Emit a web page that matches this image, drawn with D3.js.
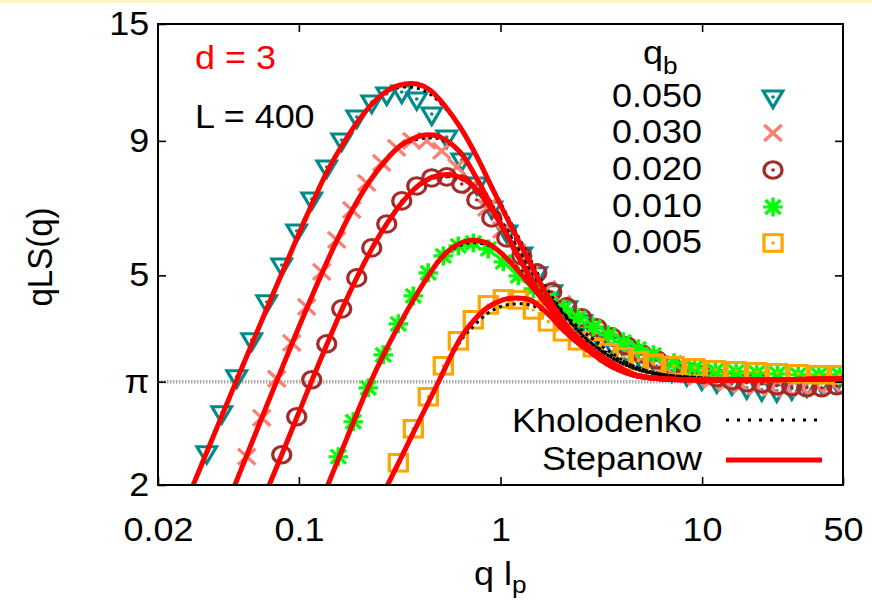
<!DOCTYPE html>
<html><head><meta charset="utf-8">
<script src="https://cdn.jsdelivr.net/npm/d3@7"></script>
<style>
body{margin:0;background:#fff;}
svg{display:block;}
text{font-family:"Liberation Sans",Arial,Helvetica,sans-serif;}
</style>
</head><body>
<svg id="c" width="872" height="601"></svg>
<script>
// ---------------- data ----------------
const xTicks = [0.02, 0.1, 1, 10, 50];
const xTickLabels = ["0.02", "0.1", "1", "10", "50"];
const yTicks = [2, Math.PI, 5, 9, 15];
const yTickLabels = ["2", "\u03c0", "5", "9", "15"];
const seriesLabels = ["0.050", "0.030", "0.020", "0.010", "0.005"];

// simulation data (markers)
const q050 = [0.03489,0.04141,0.04915,0.05834,0.06924,0.08218,0.09754,0.1158,0.1374,0.1631,0.1936,0.2298,0.2727,0.3237,0.3842,0.4560,0.5412,0.6423,0.7624,0.9049,1.074,1.275,1.513,1.796,2.131,2.530,3.003,3.564,4.230,5.020,5.959,7.072,8.394,9.963,11.83,14.04,16.66,19.77,23.47,27.85,33.06,39.24,46.57];
const v050 = [2.303,2.743,3.210,3.772,4.453,5.234,6.072,6.983,8.030,9.036,9.990,10.667,11.046,11.143,10.808,10.122,9.155,8.280,7.455,6.713,6.046,5.492,5.033,4.652,4.338,4.081,3.872,3.707,3.580,3.457,3.367,3.295,3.238,3.182,3.140,3.113,3.059,3.032,3.019,3.045,3.086,3.127,3.154];

const q030 = [0.05510,0.06539,0.07761,0.09211,0.1093,0.1298,0.1540,0.1828,0.2169,0.2575,0.3056,0.3628,0.4306,0.5110,0.6065,0.7198,0.8543,1.014,1.204,1.429,1.696,2.012,2.389,2.835,3.365,3.994,4.740,5.626,6.677,7.925,9.406,11.16,13.25,15.73,18.66,22.15,26.30,31.21,37.05,43.97];
const v030 = [2.263,2.683,3.182,3.723,4.357,5.076,5.838,6.655,7.488,8.172,8.725,8.997,8.997,8.611,8.031,7.391,6.713,6.099,5.540,5.076,4.714,4.414,4.153,3.941,3.772,3.627,3.502,3.397,3.323,3.266,3.210,3.168,3.126,3.099,3.072,3.059,3.045,3.059,3.085,3.113];

const q020 = [0.08218,0.09754,0.1158,0.1374,0.1631,0.1936,0.2298,0.2727,0.3237,0.3842,0.4560,0.5412,0.6423,0.7624,0.9049,1.074,1.275,1.513,1.796,2.131,2.530,3.003,3.564,4.230,5.020,5.959,7.072,8.394,9.963,11.83,14.04,16.66,19.77,23.47,27.85,33.06,39.24,46.57];
const v020 = [2.283,2.695,3.168,3.707,4.319,4.945,5.638,6.260,6.923,7.391,7.654,7.688,7.455,6.953,6.427,5.889,5.444,5.055,4.652,4.357,4.153,3.976,3.821,3.675,3.548,3.457,3.367,3.295,3.238,3.196,3.154,3.126,3.113,3.086,3.072,3.059,3.059,3.086];

const q010 = [0.1569,0.1861,0.2210,0.2622,0.3113,0.3695,0.4384,0.5204,0.6176,0.7331,0.8701,1.033,1.226,1.455,1.727,2.050,2.433,2.887,3.427,4.067,4.827,5.732,7.260,9.196,11.65,14.75,18.69,23.67,29.98,37.97,48.10];
const v010 = [2.263,2.637,3.059,3.533,4.046,4.571,5.055,5.444,5.687,5.762,5.613,5.304,4.989,4.714,4.512,4.319,4.153,3.993,3.855,3.739,3.627,3.533,3.412,3.338,3.295,3.280,3.266,3.252,3.238,3.238,3.238];

const q005 = [0.3113,0.3695,0.4384,0.5204,0.6176,0.7331,0.8701,1.033,1.226,1.455,1.727,2.050,2.433,2.887,3.427,4.067,4.827,5.732,7.260,9.196,11.65,14.75,18.69,23.67,29.98,37.97,48.10];
const v005 = [2.204,2.557,2.941,3.367,3.756,4.117,4.395,4.512,4.492,4.300,4.081,3.907,3.756,3.643,3.564,3.502,3.442,3.397,3.367,3.338,3.309,3.295,3.280,3.266,3.252,3.238,3.238];

// Stepanow theory (red solid)
const sq050 = [0.02850,0.02993,0.03489,0.04203,0.05103,0.06174,0.07440,0.09031,0.1093,0.1378,0.1654,0.2009,0.2440,0.2929,0.3360,0.3854,0.4470,0.5305,0.6296,0.7645,0.9177,1.114,1.353,1.625,1.973,2.479,3.374,4.542,6.184,9.760,19.37,50];
const sv050 = [1.917,2.003,2.307,2.739,3.273,3.893,4.607,5.478,6.484,7.857,8.879,9.926,10.808,11.364,11.539,11.539,11.241,10.482,9.564,8.389,7.263,6.260,5.421,4.734,4.189,3.739,3.397,3.238,3.182,3.168,3.168,3.182];
const sq030 = [0.04604,0.04820,0.05919,0.07440,0.09346,0.1175,0.1476,0.1855,0.2252,0.2673,0.3173,0.3639,0.4222,0.5011,0.6296,0.7645,0.9177,1.114,1.353,1.625,1.973,2.479,3.374,4.542,6.184,9.760,19.37,50];
const sv030 = [1.917,2.003,2.437,3.027,3.749,4.615,5.618,6.690,7.561,8.233,8.801,9.076,9.235,9.155,8.574,7.620,6.684,5.813,5.076,4.531,4.117,3.739,3.397,3.238,3.182,3.168,3.168,3.182];
const sq020 = [0.06561,0.06867,0.08218,0.09754,0.1158,0.1374,0.1631,0.1936,0.2298,0.2727,0.3237,0.3842,0.4560,0.5412,0.6296,0.7057,0.8377,0.9942,1.180,1.401,1.662,1.973,2.479,3.374,4.542,6.184,9.760,19.37,50];
const sv020 = [1.860,1.934,2.283,2.683,3.154,3.691,4.300,4.945,5.613,6.260,6.862,7.359,7.671,7.772,7.671,7.488,6.953,6.287,5.589,4.945,4.453,4.099,3.739,3.397,3.238,3.182,3.168,3.168,3.182];
const sq010 = [0.1332,0.1394,0.1732,0.2177,0.2735,0.3437,0.4319,0.5011,0.5812,0.7057,0.8571,1.029,1.249,1.517,1.821,2.212,2.779,3.374,4.542,6.184,9.760,19.37,50];
const sv010 = [1.917,2.003,2.458,3.032,3.643,4.281,4.945,5.361,5.650,5.826,5.762,5.468,5.055,4.631,4.263,3.941,3.643,3.457,3.252,3.182,3.168,3.168,3.182];
const sq005 = [0.2613,0.2766,0.3173,0.3988,0.5011,0.5812,0.6441,0.7057,0.8571,1.029,1.207,1.401,1.700,2.042,2.479,3.374,4.542,6.184,9.760,19.37,50];
const sv005 = [1.917,2.007,2.233,2.666,3.182,3.580,3.838,4.028,4.338,4.492,4.531,4.492,4.244,3.941,3.691,3.412,3.238,3.182,3.168,3.168,3.182];

// Kholodenko theory (black dotted), on the same q grids as the Stepanow curves
const kv050 = [1.917,2.003,2.307,2.739,3.273,3.893,4.607,5.478,6.484,7.857,8.879,9.926,10.808,11.290,11.389,11.340,11.046,10.391,9.564,8.426,7.327,6.343,5.516,4.838,4.338,3.889,3.533,3.338,3.238,3.182,3.168,3.182];
const kv030 = [1.917,2.003,2.437,3.027,3.749,4.615,5.618,6.690,7.561,8.233,8.801,8.997,9.115,9.076,8.537,7.653,6.772,5.941,5.257,4.714,4.300,3.889,3.533,3.338,3.238,3.182,3.168,3.182];
const kv020 = [1.860,1.934,2.283,2.683,3.154,3.691,4.300,4.945,5.613,6.260,6.862,7.326,7.620,7.704,7.620,7.455,6.983,6.399,5.737,5.143,4.673,4.300,3.889,3.533,3.338,3.238,3.182,3.168,3.182];
const kv010 = [1.917,2.003,2.458,3.032,3.643,4.281,4.945,5.327,5.613,5.762,5.712,5.468,5.121,4.754,4.434,4.117,3.821,3.611,3.367,3.252,3.196,3.168,3.182];
const kv005 = [1.917,2.003,2.214,2.660,3.168,3.548,3.789,3.941,4.225,4.376,4.414,4.395,4.244,4.028,3.821,3.564,3.367,3.252,3.196,3.168,3.182];

// ---------------- drawing ----------------
const W = 872, H = 601;
const M = {l: 158, r: 843, t: 24, b: 485};
const SX = 1.09; // horizontal text stretch of the original
const FS = 33;

const x = d3.scaleLog().domain([0.02, 50]).range([M.l, M.r]);
const y = d3.scaleLog().domain([2, 15]).range([M.b, M.t]);

const svg = d3.select("#c");
svg.append("rect").attr("width", W).attr("height", H).attr("fill", "#fff");
svg.append("rect").attr("width", W).attr("height", 3).attr("fill", "#fdf5c2");

svg.append("defs").append("clipPath").attr("id", "clip")
  .append("rect").attr("x", M.l).attr("y", M.t).attr("width", M.r - M.l).attr("height", M.b - M.t);

// pi reference line
svg.append("line")
  .attr("x1", M.l).attr("x2", M.r).attr("y1", y(Math.PI)).attr("y2", y(Math.PI))
  .attr("stroke", "#a9a9a9").attr("stroke-width", 3.5).attr("stroke-dasharray", "1.5,1.5");

function txt(g, px, py, s, anchor, fill, size) {
  return g.append("text")
    .attr("transform", `translate(${px},${py}) scale(${SX},1)`)
    .attr("text-anchor", anchor || "start")
    .attr("fill", fill || "#000")
    .attr("font-size", size || FS)
    .text(s);
}

// markers
const mk = {
  tri: (g, c) => {
    g.append("path").attr("d", "M-9,-6L9,-6L0,10.5Z").attr("fill", "none").attr("stroke", c).attr("stroke-width", 3);
    g.append("circle").attr("r", 1.7).attr("fill", c);
  },
  cross: (g, c) => {
    g.append("path").attr("d", "M-8,-8L8,8M-8,8L8,-8").attr("fill", "none").attr("stroke", c).attr("stroke-width", 3.2);
  },
  circ: (g, c) => {
    g.append("circle").attr("r", 8.3).attr("fill", "none").attr("stroke", c).attr("stroke-width", 3);
    g.append("circle").attr("r", 1.7).attr("fill", c);
  },
  star: (g, c) => {
    g.append("path").attr("d", "M-9,0L9,0M0,-9.5L0,9.5M-7,-7L7,7M-7,7L7,-7").attr("fill", "none").attr("stroke", c).attr("stroke-width", 3.2);
  },
  sq: (g, c) => {
    g.append("rect").attr("x", -8.3).attr("y", -8.3).attr("width", 16.6).attr("height", 16.6).attr("fill", "none").attr("stroke", c).attr("stroke-width", 3);
    g.append("circle").attr("r", 1.7).attr("fill", c);
  }
};

const series = [
  {q: q050, v: v050, sq: sq050, sv: sv050, kv: kv050, color: "#008b8b", m: "tri"},
  {q: q030, v: v030, sq: sq030, sv: sv030, kv: kv030, color: "#fa8072", m: "cross"},
  {q: q020, v: v020, sq: sq020, sv: sv020, kv: kv020, color: "#a52a2a", m: "circ"},
  {q: q010, v: v010, sq: sq010, sv: sv010, kv: kv010, color: "#00ff00", m: "star"},
  {q: q005, v: v005, sq: sq005, sv: sv005, kv: kv005, color: "#ffa500", m: "sq"}
];

const pts = svg.append("g").attr("clip-path", "url(#clip)");
series.forEach(s => {
  s.q.forEach((qq, i) => {
    const g = pts.append("g").attr("transform", `translate(${x(qq)},${y(s.v[i])}) scale(${SX},1)`);
    mk[s.m](g, s.color);
  });
});

const line = d3.line().x(d => x(d[0])).y(d => y(d[1])).curve(d3.curveCatmullRom.alpha(0.5));
const curves = svg.append("g").attr("clip-path", "url(#clip)");
series.forEach(s => {
  curves.append("path").datum(s.sq.map((qq, i) => [qq, s.kv[i]]))
    .attr("d", line).attr("fill", "none").attr("stroke", "#000")
    .attr("stroke-width", 3).attr("stroke-dasharray", "3,4");
});
series.forEach(s => {
  curves.append("path").datum(s.sq.map((qq, i) => [qq, s.sv[i]]))
    .attr("d", line).attr("fill", "none").attr("stroke", "#ff0000")
    .attr("stroke-width", 5).attr("stroke-linejoin", "round");
});

// axes
function styleAxis(g) {
  g.select(".domain").remove();
  g.selectAll(".tick line").attr("stroke", "#000").attr("stroke-width", 1.6);
  g.selectAll(".tick text").attr("font-size", FS).attr("fill", "#000")
    .attr("font-family", "Liberation Sans, Arial, sans-serif");
}
const gx = svg.append("g").attr("transform", `translate(0,${M.b})`)
  .call(d3.axisBottom(x).tickValues(xTicks).tickFormat((d, i) => xTickLabels[i]).tickSizeInner(-8).tickSizeOuter(0).tickPadding(33));
styleAxis(gx);
gx.selectAll(".tick text").attr("transform", `scale(${SX},1)`);

const gy = svg.append("g").attr("transform", `translate(${M.l},0)`)
  .call(d3.axisLeft(y).tickValues(yTicks).tickFormat((d, i) => yTickLabels[i]).tickSizeInner(-8).tickSizeOuter(0).tickPadding(8));
styleAxis(gy);
gy.selectAll(".tick text").attr("transform", `scale(${SX},1)`);

const gt = svg.append("g").attr("transform", `translate(0,${M.t})`)
  .call(d3.axisTop(x).tickValues([0.1, 1, 10]).tickFormat("").tickSizeInner(-8).tickSizeOuter(0));
styleAxis(gt);
const gr = svg.append("g").attr("transform", `translate(${M.r},0)`)
  .call(d3.axisRight(y).tickValues([Math.PI, 5, 9]).tickFormat("").tickSizeInner(-8).tickSizeOuter(0));
styleAxis(gr);

// frame
svg.append("rect").attr("x", M.l).attr("y", M.t).attr("width", M.r - M.l).attr("height", M.b - M.t)
  .attr("fill", "none").attr("stroke", "#000").attr("stroke-width", 2);

// axis titles
const xl = txt(svg, 474, 585, "q l", "start");
xl.append("tspan").attr("font-size", 24).attr("dy", 8).text("p");
svg.append("text")
  .attr("transform", `translate(52,257) scale(${SX},1) rotate(-90)`)
  .attr("text-anchor", "middle").attr("font-size", FS).attr("fill", "#000").text("qLS(q)");

// annotations
txt(svg, 195, 69, "d = 3", "start", "#ff0000");
txt(svg, 195, 128, "L = 400", "start", "#000");

// legend
const lt = txt(svg, 643, 64, "q", "start");
lt.append("tspan").attr("font-size", 24).attr("dy", 10).text("b");
const legBase = [107, 143, 180, 217, 253];
series.forEach((s, i) => {
  txt(svg, 702, legBase[i], seriesLabels[i], "end");
  const g = svg.append("g").attr("transform", `translate(773,${legBase[i] - 10}) scale(${SX},1)`);
  mk[s.m](g, s.color);
});
txt(svg, 702, 432, "Kholodenko", "end");
txt(svg, 702, 470, "Stepanow", "end");
svg.append("line").attr("x1", 726).attr("x2", 822).attr("y1", 420).attr("y2", 420)
  .attr("stroke", "#000").attr("stroke-width", 3).attr("stroke-dasharray", "3,8");
svg.append("line").attr("x1", 726).attr("x2", 822).attr("y1", 460).attr("y2", 460)
  .attr("stroke", "#ff0000").attr("stroke-width", 5);
</script>
</body></html>
